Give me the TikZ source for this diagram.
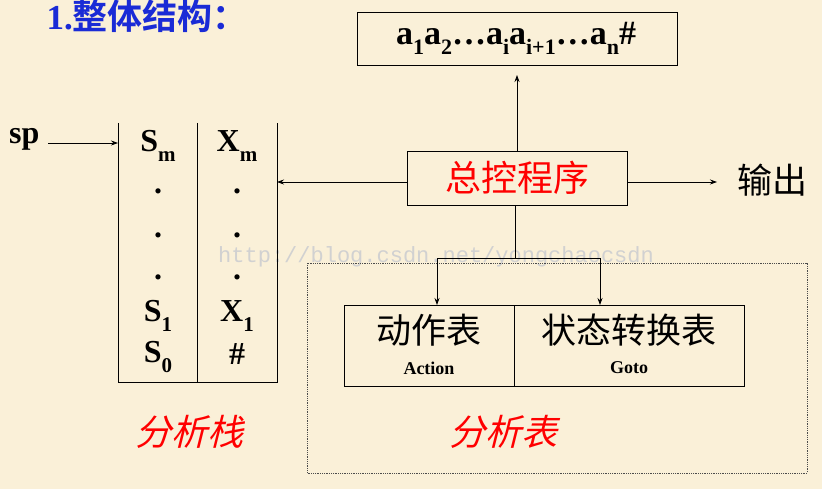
\documentclass[tikz,border=0pt]{standalone}
\usepackage{fontspec}
\setmainfont{Liberation Serif}
\newfontfamily\cjk{Noto Sans CJK SC}[BoldFont={Noto Sans CJK SC Bold}]
\newfontfamily\cjkit{Noto Sans CJK SC}[FakeSlant=0.25]
\newfontfamily\wmfont{Liberation Mono}
\usetikzlibrary{arrows.meta}
\definecolor{bg}{HTML}{FAF0D8}
\definecolor{ttl}{HTML}{1A2BD6}
\newcommand{\mysub}[2][21]{\raisebox{-0.3em}{\fontsize{#1}{#1}\selectfont #2}}
\begin{document}
\begin{tikzpicture}[x=1pt,y=-1pt,
  line/.style={line width=0.9pt,black},
  arr/.style={line width=0.8pt,-{Stealth[length=7pt,width=5pt]}},
  plainbox/.style={draw,line width=0.9pt,inner sep=0pt},
  lat/.style={font=\fontsize{32}{32}\selectfont\bfseries},
  dotn/.style={font=\fontsize{32}{32}\selectfont\bfseries,inner sep=0pt},
  zh/.style={font=\fontsize{35}{35}\selectfont\cjk},
  redzh/.style={font=\fontsize{36}{36}\selectfont\cjkit,text=red},
  small/.style={font=\fontsize{18}{18}\selectfont\bfseries}]
\fill[bg] (0,0) rectangle (822,489);
\useasboundingbox (0,0) rectangle (822,489);
% watermark
\node[anchor=west,inner sep=0pt,font=\fontsize{22}{22}\selectfont\wmfont,text=black!18] (wm) at (218,257) {http://blog.csdn.net/yongchaocsdn};
% title
\node[anchor=west,font=\fontsize{35}{35}\selectfont\bfseries,text=ttl] (title) at (43,16) {1.{\cjk\bfseries 整体结构：}};
% input string box
\node[plainbox,minimum width=320pt,minimum height=53pt] (input) at (517,38.5) {};
\node[font=\fontsize{34}{34}\selectfont\bfseries] (inputtxt) at (516,38) {a\mysub[22]{1}a\mysub[22]{2}…a\mysub[22]{i}a\mysub[22]{i+1}…a\mysub[22]{n}\#};
% control box
\node[plainbox,minimum width=220pt,minimum height=54pt,redzh,font=\fontsize{36}{36}\selectfont\cjk] (ctrl) at (517,178) {总控程序};
\coordinate (inpArrow) at (517,75);
\draw[arr] (ctrl.north) -- (inpArrow);
% output
\node[zh,anchor=west] (out) at (734,180) {输出};
\coordinate (outTip) at (717,182);
\draw[arr] (ctrl.east |- outTip) -- (outTip);
% stack
\coordinate (stTL) at (118,123);
\coordinate (stBL) at (118,382);
\coordinate (stMT) at (197,123);
\coordinate (stMB) at (197,382);
\coordinate (stTR) at (277,123);
\coordinate (stBR) at (277,382);
\draw[line] (stTL) -- (stBL) -- (stBR) -- (stTR);
\draw[line] (stMT) -- (stMB);
\coordinate (stRight) at (277,182);
\draw[arr] (ctrl.west |- stRight) -- (stRight);
\node[lat,anchor=east] (sp) at (43,139) {sp};
\coordinate (spStart) at (48,143);
\coordinate (spTip) at (118,143);
\draw[arr] (spStart) -- (spTip);
\node[lat] (sm) at (158,146) {S\mysub{m}};
\node[lat] (xm) at (237,146) {X\mysub{m}};
\node[dotn] (d1a) at (158,191) {.};
\node[dotn] (d2a) at (158,235) {.};
\node[dotn] (d3a) at (158,277) {.};
\node[dotn] (d1b) at (237,191) {.};
\node[dotn] (d2b) at (237,235) {.};
\node[dotn] (d3b) at (237,277) {.};
\node[lat] (s1) at (158,316) {S\mysub{1}};
\node[lat] (x1) at (237,316) {X\mysub{1}};
\node[lat] (s0) at (158,357) {S\mysub{0}};
\node[lat] (hash) at (237,354) {\#};
\node[redzh] (stlabel) at (189,432) {分析栈};
% analysis table region
\draw[line width=0.8pt,densely dotted,black!70] (307,263) rectangle (807,473);
\node[plainbox,minimum width=170pt,minimum height=81pt] (action) at (429.5,345.5) {};
\node[plainbox,minimum width=230pt,minimum height=81pt] (goto) at (629.5,345.5) {};
\node[zh] (actzh) at (429,330) {动作表};
\node[small] (actEn) at (429,368) {Action};
\node[zh] (gotozh) at (629,330) {状态转换表};
\node[small] (gotoEn) at (629,368) {Goto};
\node[redzh] (tblabel) at (503,432) {分析表};
\coordinate (junc) at (515,258);
\draw[line width=0.8pt] (ctrl.south -| junc) -- (junc);
\draw[arr] (junc) -- (437,258) -- (437,305);
\draw[arr] (junc) -- (600,258) -- (600,305);
\end{tikzpicture}
\end{document}
